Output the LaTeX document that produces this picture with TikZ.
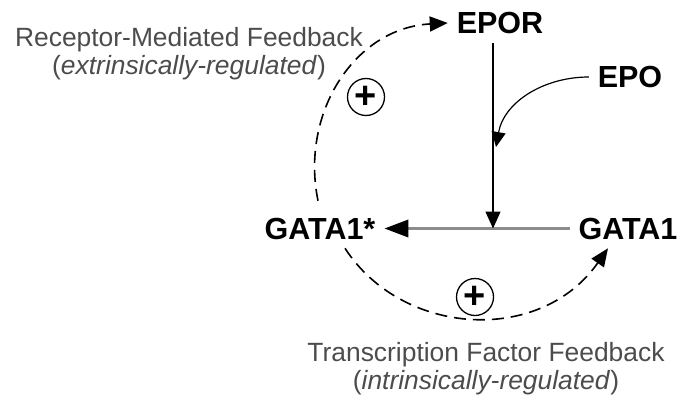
\documentclass[tikz,border=0pt]{standalone}
\usepackage{fontspec}
\setmainfont{Liberation Sans}
\usetikzlibrary{arrows.meta}
\definecolor{labelgray}{gray}{0.3}
\definecolor{linegray}{gray}{0.55}
\tikzset{
    prot/.style={font=\fontsize{30.5}{30.5}\selectfont\bfseries, inner sep=0pt, outer sep=9pt},
    fbtext/.style={font=\fontsize{26.4}{28}\selectfont, text=labelgray, align=center},
    fb/.style={line width=1.6pt, dash pattern=on 12pt off 7pt, -{Triangle[length=18pt,width=15pt]}},
    plus/.style={circle, draw, line width=1.3pt, minimum size=37pt, inner sep=0pt, font=\fontsize{38}{38}\selectfont\bfseries},
}
\begin{document}
\begin{tikzpicture}[x=1pt,y=1pt]
        \useasboundingbox (0,0) rectangle (685,400);
        % species
        \node[prot] (EPOR) at (500,377) {EPOR};
        \node[prot] (EPO) at (630,323) {EPO};
        \node[prot] (GATA1s) at (320,171.5) {GATA1*};
        \node[prot] (GATA1) at (628,171.5) {GATA1};
        \coordinate (jn) at (493,171.5); % where EPOR signal meets the conversion
        \coordinate (epohit) at (496,253);
        % conversion GATA1 -> GATA1*
        \draw[linegray, line width=3.5pt, -{Triangle[length=24pt,width=17pt,color=black]}] (GATA1.west) -- (GATA1s.east);
        \draw[line width=1.4pt, -{Triangle[length=17pt,width=15pt]}] (EPOR.south -| jn) -- (jn);
        \draw[line width=1.2pt, -{Triangle[length=15pt,width=14pt]}] (EPO.west) to[out=180,in=80] (epohit);
        % feedback loops
        \draw[fb] ([xshift=-2pt,yshift=8pt]GATA1s.north) .. controls +(-18,88) and +(-93,-5) .. (EPOR.west);
        \draw[fb] ([xshift=25pt]GATA1s.south) .. controls +(57,-88) and +(-68,-97) .. ([xshift=-20pt]GATA1.south);
        \node[plus] (plustop) at (366,303) {+};
        \node[plus] (plusbot) at (475,103) {+};
        % loop labels
        \node[fbtext] (recfb) at (189,346.3) {Receptor-Mediated Feedback\\(\textit{extrinsically-regulated})};
        \node[fbtext] (tffb) at (486,31.3) {Transcription Factor Feedback\\(\textit{intrinsically-regulated})};
    \end{tikzpicture}
\end{document}
